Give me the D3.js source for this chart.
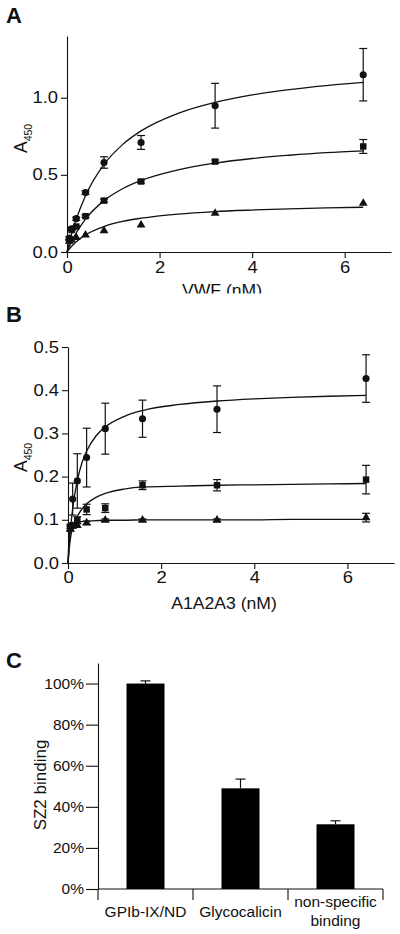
<!DOCTYPE html>
<html><head><meta charset="utf-8">
<script src="https://cdn.jsdelivr.net/npm/d3@7"></script>
<style>
body{margin:0;background:#fff}
text{font-family:"Liberation Sans",Arial,Helvetica,sans-serif;fill:#111}
</style>
</head><body>
<svg id="chart" width="400" height="934"></svg>
<script>
// ---------- Panel A data (VWF) ----------
const dosesA = [0.05, 0.1, 0.2, 0.4, 0.8, 1.6, 3.2, 6.4];
const circleA = [0.09, 0.15, 0.216, 0.385, 0.58, 0.71, 0.948, 1.149];
const circleAErr = [0.01, 0.01, 0.01, 0.012, 0.037, 0.045, 0.145, 0.17];
const squareA = [0.078, 0.143, 0.165, 0.232, 0.333, 0.457, 0.586, 0.684];
const squareAErr = [0.005, 0.005, 0.005, 0.008, 0.01, 0.01, 0.01, 0.045];
const triangleA = [0.07, 0.078, 0.095, 0.11, 0.138, 0.175, 0.251, 0.316];
const triangleAErr = [0, 0, 0, 0, 0, 0, 0, 0];
const fitXA = [0, 0.1, 0.2, 0.4, 0.8, 1.2, 1.6, 2.4, 3.2, 4.0, 4.8, 5.6, 6.4];
const fitCircleA = [0, 0.117, 0.213, 0.365, 0.568, 0.696, 0.785, 0.899, 0.970, 1.018, 1.053, 1.079, 1.100];
const fitSquareA = [0, 0.067, 0.124, 0.213, 0.333, 0.410, 0.464, 0.533, 0.576, 0.606, 0.627, 0.644, 0.656];
const fitTriangleA = [0, 0.037, 0.067, 0.111, 0.165, 0.198, 0.219, 0.246, 0.262, 0.272, 0.280, 0.286, 0.290];
const ticksAy = [0, 0.5, 1.0];
const ticksAx = [0, 2, 4, 6];

// ---------- Panel B data (A1A2A3) ----------
const dosesB = [0.05, 0.1, 0.2, 0.4, 0.8, 1.6, 3.2, 6.4];
const circleB = [0.085, 0.148, 0.19, 0.244, 0.311, 0.334, 0.356, 0.427];
const circleBErr = [0.005, 0.037, 0.063, 0.068, 0.059, 0.043, 0.054, 0.055];
const squareB = [0.08, 0.087, 0.099, 0.124, 0.127, 0.18, 0.18, 0.193];
const squareBErr = [0.005, 0.005, 0.008, 0.012, 0.01, 0.01, 0.013, 0.033];
const triangleB = [0.078, 0.085, 0.087, 0.093, 0.099, 0.099, 0.099, 0.105];
const triangleBErr = [0, 0, 0, 0.004, 0.003, 0.003, 0.003, 0.01];
const fitXB = [0, 0.025, 0.05, 0.1, 0.2, 0.3, 0.4, 0.6, 0.8, 1.2, 1.6, 2.4, 3.2, 4.0, 4.8, 5.6, 6.4];
const fitCircleB = [0, 0.041, 0.0745, 0.126, 0.191, 0.232, 0.259, 0.294, 0.315, 0.339, 0.353, 0.367, 0.375, 0.380, 0.3835, 0.386, 0.388];
const fitSquareB = [0, 0.03, 0.055, 0.082, 0.108, 0.125, 0.137, 0.152, 0.161, 0.171, 0.176, 0.178, 0.180, 0.181, 0.182, 0.183, 0.184];
const fitTriangleB = [0, 0.06, 0.078, 0.089, 0.094, 0.096, 0.097, 0.098, 0.099, 0.099, 0.100, 0.100, 0.100, 0.100, 0.101, 0.101, 0.101];
const ticksBy = [0, 0.1, 0.2, 0.3, 0.4, 0.5];
const ticksBx = [0, 2, 4, 6];

// ---------- Panel C data ----------
const catsC = ["GPIb-IX/ND", "Glycocalicin", "non-specific binding"];
const catLabelsC = [["GPIb-IX/ND"], ["Glycocalicin"], ["non-specific", "binding"]];
const valuesC = [100, 49, 31.5];
const errC = [1.3, 4.5, 1.7];
const ticksCy = [0, 20, 40, 60, 80, 100];

const svg = d3.select("#chart");
const INK = "#111";

function stretch(sel, f) {
  sel.each(function () {
    const w = this.getComputedTextLength();
    this.setAttribute("textLength", w * f);
    this.setAttribute("lengthAdjust", "spacingAndGlyphs");
  });
}
function styleAxis(g, fs) {
  g.selectAll("path.domain").attr("stroke", INK).attr("stroke-width", 1.1);
  g.selectAll(".tick line").attr("stroke", INK).attr("stroke-width", 1.1);
  g.selectAll("text").attr("font-size", fs).attr("fill", INK)
    .style("font-family", '"Liberation Sans", Arial, sans-serif');
}

function drawCurvePanel(o) {
  const g = svg.append("g");
  const x = d3.scaleLinear().domain(o.xDomain).range(o.xRange);
  const y = d3.scaleLinear().domain(o.yDomain).range(o.yRange);

  const ax = g.append("g").attr("transform", `translate(0,${o.yRange[0]})`)
    .call(d3.axisBottom(x).tickValues(o.ticksX).tickFormat(d3.format("d")).tickSize(6).tickSizeOuter(0).tickPadding(o.xPad));
  styleAxis(ax, 16);
  stretch(ax.selectAll("text"), 1.15);
  const ay = g.append("g").attr("transform", `translate(${o.xRange[0]},0)`)
    .call(d3.axisLeft(y).tickValues(o.ticksY).tickFormat(d3.format(".1f")).tickSize(6).tickSizeOuter(0).tickPadding(o.yPad));
  styleAxis(ay, 16);
  stretch(ay.selectAll("text"), 1.15);

  const line = d3.line().x(d => x(d[0])).y(d => y(d[1])).curve(d3.curveMonotoneX);
  o.fits.forEach(f => {
    g.append("path").datum(o.fitX.map((v, i) => [v, f[i]]))
      .attr("d", line).attr("fill", "none").attr("stroke", INK).attr("stroke-width", 1.3);
  });

  const types = [d3.symbolCircle, d3.symbolSquare, d3.symbolTriangle];
  const sizes = [40, 42, 34];
  o.series.forEach((s, k) => {
    const pts = o.doses.map((d, i) => ({ x: d, v: s.v[i], e: s.e[i] }));
    const eb = g.append("g");
    pts.filter(p => p.e > 0).forEach(p => {
      eb.append("line").attr("x1", x(p.x)).attr("x2", x(p.x))
        .attr("y1", y(p.v - p.e)).attr("y2", y(p.v + p.e)).attr("stroke", INK).attr("stroke-width", 1.2);
      [p.v - p.e, p.v + p.e].forEach(c => {
        eb.append("line").attr("x1", x(p.x) - 4).attr("x2", x(p.x) + 4)
          .attr("y1", y(c)).attr("y2", y(c)).attr("stroke", INK).attr("stroke-width", 1.2);
      });
    });
    g.append("g").selectAll("path").data(pts).join("path")
      .attr("d", d3.symbol().type(types[k]).size(sizes[k]))
      .attr("transform", p => `translate(${x(p.x)},${y(p.v)})`)
      .attr("fill", INK);
  });

  // panel letter
  svg.append("text").attr("x", 6).attr("y", o.letterY).attr("font-size", 22)
    .attr("font-weight", "bold").text(o.letter);
  // y label A450
  const yl = svg.append("text").attr("transform", `translate(27,${o.ylabY}) rotate(-90)`)
    .attr("font-size", 17.5);
  yl.append("tspan").text("A");
  yl.append("tspan").attr("font-size", 10.5).attr("dy", 5).text("450");
  // x title
  const xt = svg.append("text").attr("x", o.titleX).attr("y", o.titleY)
    .attr("text-anchor", "middle").attr("font-size", 16).text(o.title);
  if (o.clip) xt.attr("clip-path", "url(#clipA)");
  stretch(xt, 1.1);
}

svg.append("defs").append("clipPath").attr("id", "clipA")
  .append("rect").attr("x", 0).attr("y", 270).attr("width", 400).attr("height", 23.5);

drawCurvePanel({
  xDomain: [0, 7], xRange: [67, 391], yDomain: [0, 1.4], yRange: [252, 36],
  ticksX: ticksAx, ticksY: ticksAy, xPad: 4, yPad: 3,
  fitX: fitXA, fits: [fitCircleA, fitSquareA, fitTriangleA],
  doses: dosesA,
  series: [{ v: circleA, e: circleAErr }, { v: squareA, e: squareAErr }, { v: triangleA, e: triangleAErr }],
  letter: "A", letterY: 23, ylabY: 153, title: "VWF (nM)", titleX: 222, titleY: 296, clip: true
});

drawCurvePanel({
  xDomain: [0, 7], xRange: [68, 394], yDomain: [0, 0.5], yRange: [563, 347],
  ticksX: ticksBx, ticksY: ticksBy, xPad: 3, yPad: 3,
  fitX: fitXB, fits: [fitCircleB, fitSquareB, fitTriangleB],
  doses: dosesB,
  series: [{ v: circleB, e: circleBErr }, { v: squareB, e: squareBErr }, { v: triangleB, e: triangleBErr }],
  letter: "B", letterY: 322, ylabY: 472, title: "A1A2A3 (nM)", titleX: 224, titleY: 609, clip: false
});

// ---------- Panel C ----------
(function () {
  const g = svg.append("g");
  const x = d3.scaleBand().domain(catsC).range([98, 383]).padding(0);
  const y = d3.scaleLinear().domain([0, 110]).range([889, 663]);
  const ay = g.append("g").attr("transform", "translate(98,0)")
    .call(d3.axisLeft(y).tickValues(ticksCy).tickFormat(d => d + "%").tickSize(12).tickSizeOuter(0).tickPadding(2));
  styleAxis(ay, 15.5);

  g.append("line").attr("x1", x.range()[0]).attr("x2", x.range()[1]).attr("y1", y(0)).attr("y2", y(0))
    .attr("stroke", INK).attr("stroke-width", 1.1);
  const bounds = catsC.map(c => x(c)).concat([x(catsC[catsC.length - 1]) + x.bandwidth()]);
  g.selectAll("line.bt").data(bounds).join("line").attr("class", "bt")
    .attr("x1", d => d).attr("x2", d => d).attr("y1", y(0)).attr("y2", y(0) + 11)
    .attr("stroke", INK).attr("stroke-width", 1.1);

  const bw = x.bandwidth() * 0.4;
  const cx = c => x(c) + x.bandwidth() / 2;
  g.selectAll("rect.bar").data(catsC).join("rect").attr("class", "bar")
    .attr("x", c => cx(c) - bw / 2).attr("width", bw)
    .attr("y", (c, i) => y(valuesC[i])).attr("height", (c, i) => y(0) - y(valuesC[i]))
    .attr("fill", "#000");
  catsC.forEach((c, i) => {
    g.append("line").attr("x1", cx(c)).attr("x2", cx(c))
      .attr("y1", y(valuesC[i])).attr("y2", y(valuesC[i] + errC[i])).attr("stroke", INK).attr("stroke-width", 1.2);
    g.append("line").attr("x1", cx(c) - 5).attr("x2", cx(c) + 5)
      .attr("y1", y(valuesC[i] + errC[i])).attr("y2", y(valuesC[i] + errC[i])).attr("stroke", INK).attr("stroke-width", 1.2);
    const lines = catLabelsC[i];
    const base = lines.length === 1 ? 917 : 907;
    lines.forEach((t, j) => {
      g.append("text").attr("x", cx(c)).attr("y", base + j * 18.5).attr("text-anchor", "middle")
        .attr("font-size", 15.5).text(t);
    });
  });

  svg.append("text").attr("x", 6).attr("y", 668).attr("font-size", 22).attr("font-weight", "bold").text("C");
  svg.append("text").attr("transform", "translate(46,785) rotate(-90)").attr("text-anchor", "middle")
    .attr("font-size", 17).text("SZ2 binding");
})();
</script>
</body></html>
